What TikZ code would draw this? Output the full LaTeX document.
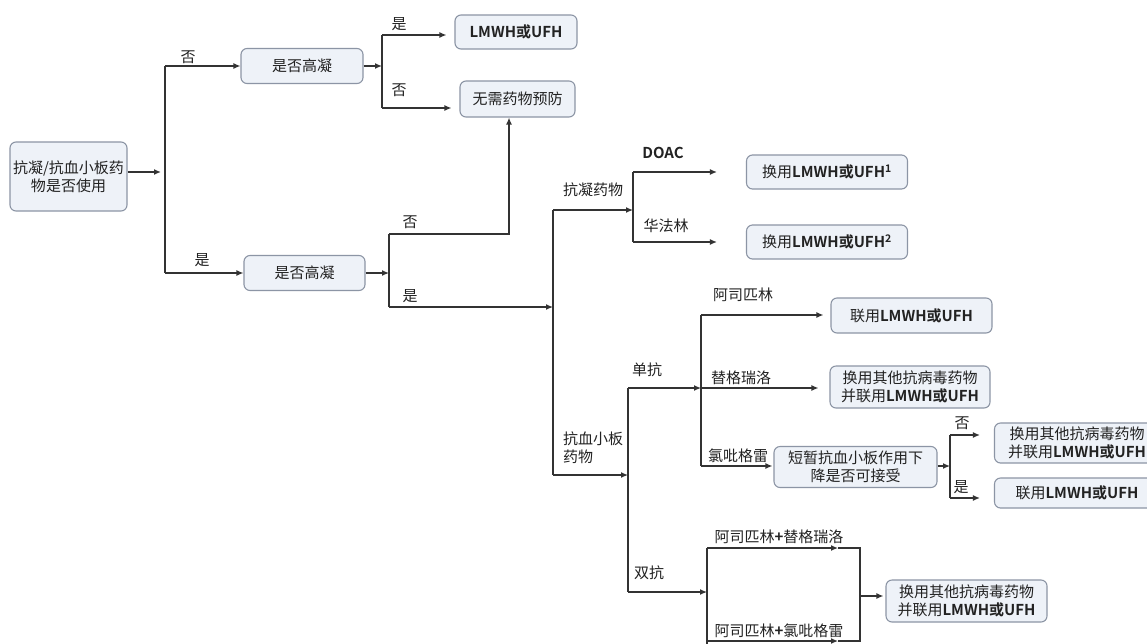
\documentclass[tikz,border=0pt]{standalone}
\usepackage{fontspec}
\setmainfont{Noto Sans CJK SC}[BoldFont={Noto Sans CJK SC Bold}]
\usetikzlibrary{arrows.meta}
\definecolor{boxfill}{HTML}{EEF2F8}
\definecolor{boxline}{HTML}{8C95A5}
\definecolor{ln}{HTML}{333333}
\definecolor{txt}{HTML}{222222}
\begin{document}
\begin{tikzpicture}[x=1pt,y=-1pt,
 box/.style={draw=boxline, fill=boxfill, rounded corners=6pt, line width=1.1pt, align=center, inner sep=0pt, text=txt, font=\fontsize{15}{18}\selectfont},
 conn/.style={draw=ln, line width=1.3pt},
 arr/.style={conn, -{Latex[length=7pt,width=6pt]}},
 lbl/.style={font=\fontsize{15}{18}\selectfont, inner sep=0pt, text=txt}]
\useasboundingbox (0,0) rectangle (1147,643);
\fill[white] (0,0) rectangle (1147,643);

% boxes
\node[box, minimum width=117pt, minimum height=69pt] (A) at (68.5,176.5) {抗凝/抗血小板药\\物是否使用};
\node[box, minimum width=122pt, minimum height=35pt] (B1) at (302,66) {是否高凝};
\node[box, minimum width=121pt, minimum height=35pt] (B2) at (304.5,273) {是否高凝};
\node[box, minimum width=122pt, minimum height=34pt] (R1) at (516,32) {\textbf{LMWH或UFH}};
\node[box, minimum width=115pt, minimum height=36pt] (R2) at (517.5,99) {无需药物预防};
\node[box, minimum width=161pt, minimum height=34pt] (D1) at (827,172) {换用\textbf{LMWH或UFH}\textsuperscript{\textbf{1}}};
\node[box, minimum width=161pt, minimum height=34pt] (D2) at (827,242) {换用\textbf{LMWH或UFH}\textsuperscript{\textbf{2}}};
\node[box, minimum width=161pt, minimum height=35pt] (S1) at (911.5,315.5) {联用\textbf{LMWH或UFH}};
\node[box, minimum width=160pt, minimum height=42pt] (S2) at (910,387) {换用其他抗病毒药物\\并联用\textbf{LMWH或UFH}};
\node[box, minimum width=163pt, minimum height=41pt] (C) at (855.5,467) {短暂抗血小板作用下\\降是否可接受};
\node[box, minimum width=165pt, minimum height=40pt] (C1) at (1077,443) {换用其他抗病毒药物\\并联用\textbf{LMWH或UFH}};
\node[box, minimum width=165pt, minimum height=30pt] (C2) at (1077,493) {联用\textbf{LMWH或UFH}};
\node[box, minimum width=161pt, minimum height=42pt] (DD) at (966.5,601) {换用其他抗病毒药物\\并联用\textbf{LMWH或UFH}};

% level 1
\coordinate (p1) at (165,172);
\coordinate (s1t) at (165,66);
\coordinate (s1b) at (165,273);
\draw[arr, shorten >=4pt] (A.east |- p1) -- (p1);
\draw[conn] (s1t) -- (s1b);
\draw[arr] (s1t) -- (B1.west);
\draw[arr] (s1b) -- (B2.west);
\node[lbl] (l1) at (188,57) {否};
\node[lbl] (l2) at (202,260) {是};

% B1 branches
\coordinate (s2m) at (382,66);
\coordinate (s2t) at (382,35);
\coordinate (s2b) at (382,108);
\draw[arr] (B1.east) -- (s2m);
\draw[conn] (s2t) -- (s2b);
\draw[arr, shorten >=8pt] (s2t) -- (R1.west |- s2t);
\draw[arr, shorten >=8pt] (s2b) -- (R2.west |- s2b);
\node[lbl] (l3) at (399,24) {是};
\node[lbl] (l4) at (399,90) {否};

% B2 branches
\coordinate (s3m) at (389,273);
\coordinate (s3t) at (389,234);
\coordinate (s3b) at (389,307);
\coordinate (k1) at (509,234);
\draw[arr] (B2.east) -- (s3m);
\draw[conn] (s3t) -- (s3b);
\draw[arr] (s3t) -- (k1) -- (k1 |- R2.south);
\node[lbl] (l5) at (410,222) {否};
\node[lbl] (l6) at (410,296) {是};

% drug type
\coordinate (s4m) at (553,307);
\coordinate (s4t) at (553,210);
\coordinate (s4b) at (553,475);
\draw[arr] (s3b) -- (s4m);
\draw[conn] (s4t) -- (s4b);

% anticoagulant
\coordinate (s5t) at (633,172);
\coordinate (s5m) at (633,210);
\coordinate (s5b) at (633,242);
\draw[arr] (s4t) -- (s5m);
\draw[conn] (s5t) -- (s5b);
\draw[arr, shorten >=29pt] (s5t) -- (D1.west |- s5t);
\draw[arr, shorten >=29pt] (s5b) -- (D2.west |- s5b);
\node[lbl] (l7) at (593,190) {抗凝药物};
\node[lbl] (l8) at (663,153) {\textbf{DOAC}};
\node[lbl] (l9) at (666,226) {华法林};

% antiplatelet
\coordinate (s6t) at (628,388);
\coordinate (s6m) at (628,475);
\coordinate (s6b) at (628,592);
\draw[arr] (s4b) -- (s6m);
\draw[conn] (s6t) -- (s6b);
\node[lbl, align=left] (l10) at (593,448) {抗血小板\\药物};
\node[lbl] (l11) at (647,370) {单抗};
\node[lbl] (l12) at (649,573) {双抗};

% single
\coordinate (s7t) at (701,315);
\coordinate (s7m) at (701,388);
\coordinate (s7b) at (701,466);
\draw[arr] (s6t) -- (s7m);
\draw[conn] (s7t) -- (s7b);
\draw[arr, shorten >=7pt] (s7t) -- (S1.west |- s7t);
\draw[arr, shorten >=11pt] (s7m) -- (S2.west |- s7m);
\draw[arr, shorten >=1pt] (s7b) -- (C.west |- s7b);
\node[lbl] (l13) at (743,295) {阿司匹林};
\node[lbl] (l14) at (741,378) {替格瑞洛};
\node[lbl] (l15) at (738,456) {氯吡格雷};

% clopidogrel decision
\coordinate (s8m) at (950,466);
\coordinate (s8t) at (950,435);
\coordinate (s8b) at (950,498);
\draw[arr] (C.east |- s8m) -- (s8m);
\draw[conn] (s8t) -- (s8b);
\draw[arr, shorten >=14pt] (s8t) -- (C1.west |- s8t);
\draw[arr, shorten >=14pt] (s8b) -- (C2.west |- s8b);
\node[lbl] (l16) at (962,423) {否};
\node[lbl] (l17) at (961,487) {是};

% dual
\coordinate (s9m) at (707,592);
\coordinate (s9t) at (707,548);
\coordinate (s9b) at (707,641);
\coordinate (s9e) at (707,650);
\coordinate (m1) at (838,548);
\coordinate (m2) at (838,641);
\coordinate (r9t) at (860,548);
\coordinate (r9b) at (860,641);
\coordinate (r9m) at (860,596);
\draw[arr] (s6b) -- (s9m);
\draw[conn] (s9t) -- (s9e);
\draw[arr] (s9t) -- (m1);
\draw[conn] (m1) -- (r9t) -- (r9b) -- (m2);
\draw[arr] (s9b) -- (m2);
\draw[arr, shorten >=2pt] (r9m) -- (DD.west |- r9m);
\node[lbl] (l18) at (779,537) {阿司匹林\textbf{+}替格瑞洛};
\node[lbl] (l19) at (779,631) {阿司匹林\textbf{+}氯吡格雷};
\end{tikzpicture}
\end{document}
